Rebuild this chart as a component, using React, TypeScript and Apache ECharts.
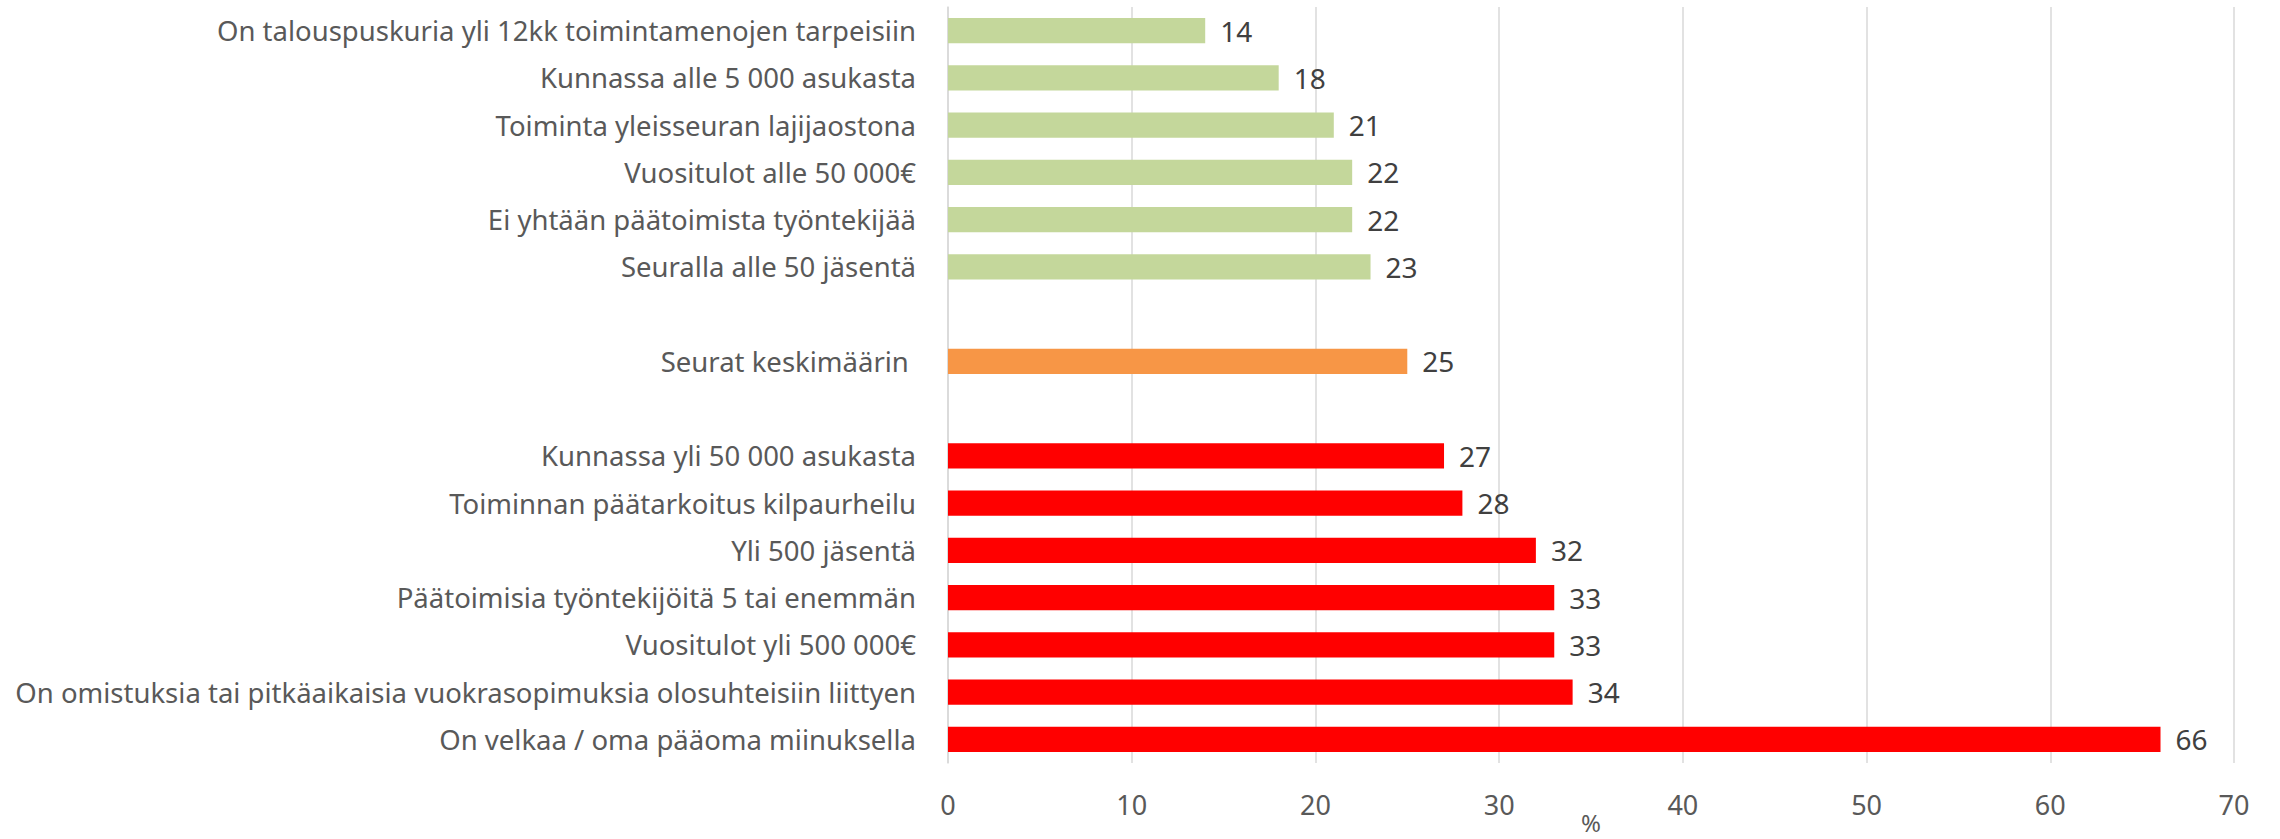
import React, { useEffect, useRef } from "react";
import * as echarts from "echarts";

const categories: string[] = [
  "On talouspuskuria yli 12kk toimintamenojen tarpeisiin",
  "Kunnassa alle 5 000 asukasta",
  "Toiminta yleisseuran lajijaostona",
  "Vuositulot alle 50 000€",
  "Ei yhtään päätoimista työntekijää",
  "Seuralla alle 50 jäsentä",
  "",
  "Seurat keskimäärin ",
  " ",
  "Kunnassa yli 50 000 asukasta",
  "Toiminnan päätarkoitus kilpaurheilu",
  "Yli 500 jäsentä",
  "Päätoimisia työntekijöitä 5 tai enemmän",
  "Vuositulot yli 500 000€",
  "On omistuksia tai pitkäaikaisia vuokrasopimuksia olosuhteisiin liittyen",
  "On velkaa / oma pääoma miinuksella",
];

const values: (number | null)[] = [14, 18, 21, 22, 22, 23, null, 25, null, 27, 28, 32, 33, 33, 34, 66];

// group: 0 = below average (green), 1 = average (orange), 2 = above average (red)
const groups: (number | null)[] = [0, 0, 0, 0, 0, 0, null, 1, null, 2, 2, 2, 2, 2, 2, 2];

const groupColors = ["#c4d79b", "#f79646", "#ff0000"];

const xTicks = { min: 0, max: 70, interval: 10 };
const axisName = "%";

export default function App() {
  const ref = useRef<HTMLDivElement>(null);
  useEffect(() => {
    if (!ref.current) return;
    const chart = echarts.init(ref.current, null, { renderer: "svg" });
    const font = "'Noto Sans', sans-serif";
    chart.setOption({
      animation: false,
      backgroundColor: "#ffffff",
      grid: {
        left: 948,
        right: 46,
        top: 7,
        bottom: 76,
        containLabel: false,
        outerBoundsMode: "none",
      },
      xAxis: {
        type: "value",
        min: xTicks.min,
        max: xTicks.max,
        interval: xTicks.interval,
        name: axisName,
        nameLocation: "middle",
        nameGap: 59,
        nameMoveOverlap: false,
        nameTextStyle: {
          color: "#595959",
          fontSize: 24,
          lineHeight: 24,
          fontFamily: font,
          verticalAlign: "middle",
        },
        axisLine: { show: false },
        axisTick: { show: false },
        axisLabel: { color: "#595959", fontSize: 27, fontFamily: font, margin: 28 },
        splitLine: { show: true, lineStyle: { color: "#d9d9d9", width: 1.5 } },
      },
      yAxis: {
        type: "category",
        data: categories,
        inverse: true,
        axisLine: { show: true, lineStyle: { color: "#d9d9d9", width: 1.5 } },
        axisTick: { show: false },
        axisLabel: { color: "#595959", fontSize: 27.5, fontFamily: font, margin: 32 },
        splitLine: { show: false },
      },
      series: [
        {
          type: "bar",
          barCategoryGap: "47%",
          data: values.map((v, i) =>
            v === null
              ? "-"
              : { value: v, itemStyle: { color: groupColors[groups[i] as number] } }
          ),
          label: {
            show: true,
            position: "right",
            distance: 15,
            color: "#404040",
            fontSize: 28,
            fontFamily: font,
          },
        },
      ],
    });
    return () => chart.dispose();
  }, []);
  return (
    <div
      ref={ref}
      style={{ position: "fixed", left: 0, top: 0, width: 2280, height: 839 }}
    />
  );
}
